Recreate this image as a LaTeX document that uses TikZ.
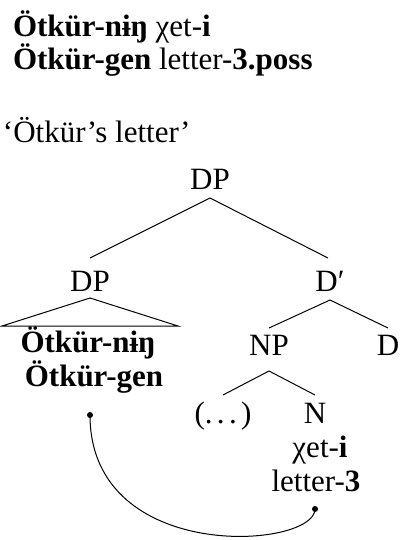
\documentclass[tikz,border=0pt]{standalone}
\usepackage{fontspec}
\setmainfont{Liberation Serif}
\begin{document}
\begin{tikzpicture}[x=0.5pt,y=-0.5pt,
  every node/.style={font=\fontsize{15.5pt}{17pt}\selectfont, inner sep=0pt, outer sep=0pt},
  lbl/.style={anchor=base},
  lblw/.style={anchor=base west},
  edge/.style={line width=0.5pt},
  dotpt/.style={circle, fill=black, minimum size=3pt}]
\useasboundingbox (0,0) rectangle (401,540);
% example lines
\node[lblw] (top1) at (13,37) {\textbf{Ötkür-nɨŋ} χet-\textbf{i}};
\node[lblw] (top2) at (13,70) {\textbf{Ötkür-gen} letter-\textbf{3.poss}};
\node[lblw] (gloss) at (3,142) {‘Ötkür’s letter’};
% tree
\node[lbl] (dp0) at (210,189) {DP};
\node[lbl] (dp1) at (90,291) {DP};
\node[lbl] (dbar) at (330,291) {D′};
\node[lbl] (np) at (269,355) {NP};
\node[lbl] (d) at (388,355) {D};
\node[lbl] (dots) at (223,423) {(.\kern0.14em.\kern0.14em.\kern0.14em)};
\node[lbl] (n) at (315,423) {N};
\node[lbl] (w1) at (88,352) {\textbf{Ötkür-nɨŋ}};
\node[lbl] (w2) at (94,386) {\textbf{Ötkür-gen}};
\node[lbl] (w3) at (320,457) {χet-\textbf{i}};
\node[lbl] (w4) at (316,491) {letter-\textbf{3}};
% edges
\draw[edge] ([yshift=-4.5pt]dp0.base) -- ([yshift=16.5pt]dp1.base);
\draw[edge] ([yshift=-4.5pt]dp0.base) -- ([xshift=-1pt,yshift=16.5pt]dbar.base);
\draw[edge] ([yshift=-4.5pt]dbar.base) -- ([yshift=13.5pt]np.base);
\draw[edge] ([yshift=-4.5pt]dbar.base) -- ([yshift=13.5pt]d.base);
\draw[edge] ([yshift=-8pt]np.base) -- ([yshift=14pt]dots.base);
\draw[edge] ([yshift=-8pt]np.base) -- ([yshift=14pt]n.base);
% triangle
\draw[edge] ([xshift=-44pt,yshift=-17.5pt]dp1.base) -- ([yshift=-3.5pt]dp1.base) -- ([xshift=44pt,yshift=-17.5pt]dp1.base) -- cycle;
% binding curve
\node[dotpt] (a) at ([xshift=-2pt,yshift=-14.5pt]w2.base) {};
\node[dotpt] (b) at ([xshift=-0.5pt,yshift=-9pt]w4.base) {};
\draw[edge] (a.center) .. controls +(0,-75pt) and +(0,-20pt) .. (b.center);
\end{tikzpicture}
\end{document}
